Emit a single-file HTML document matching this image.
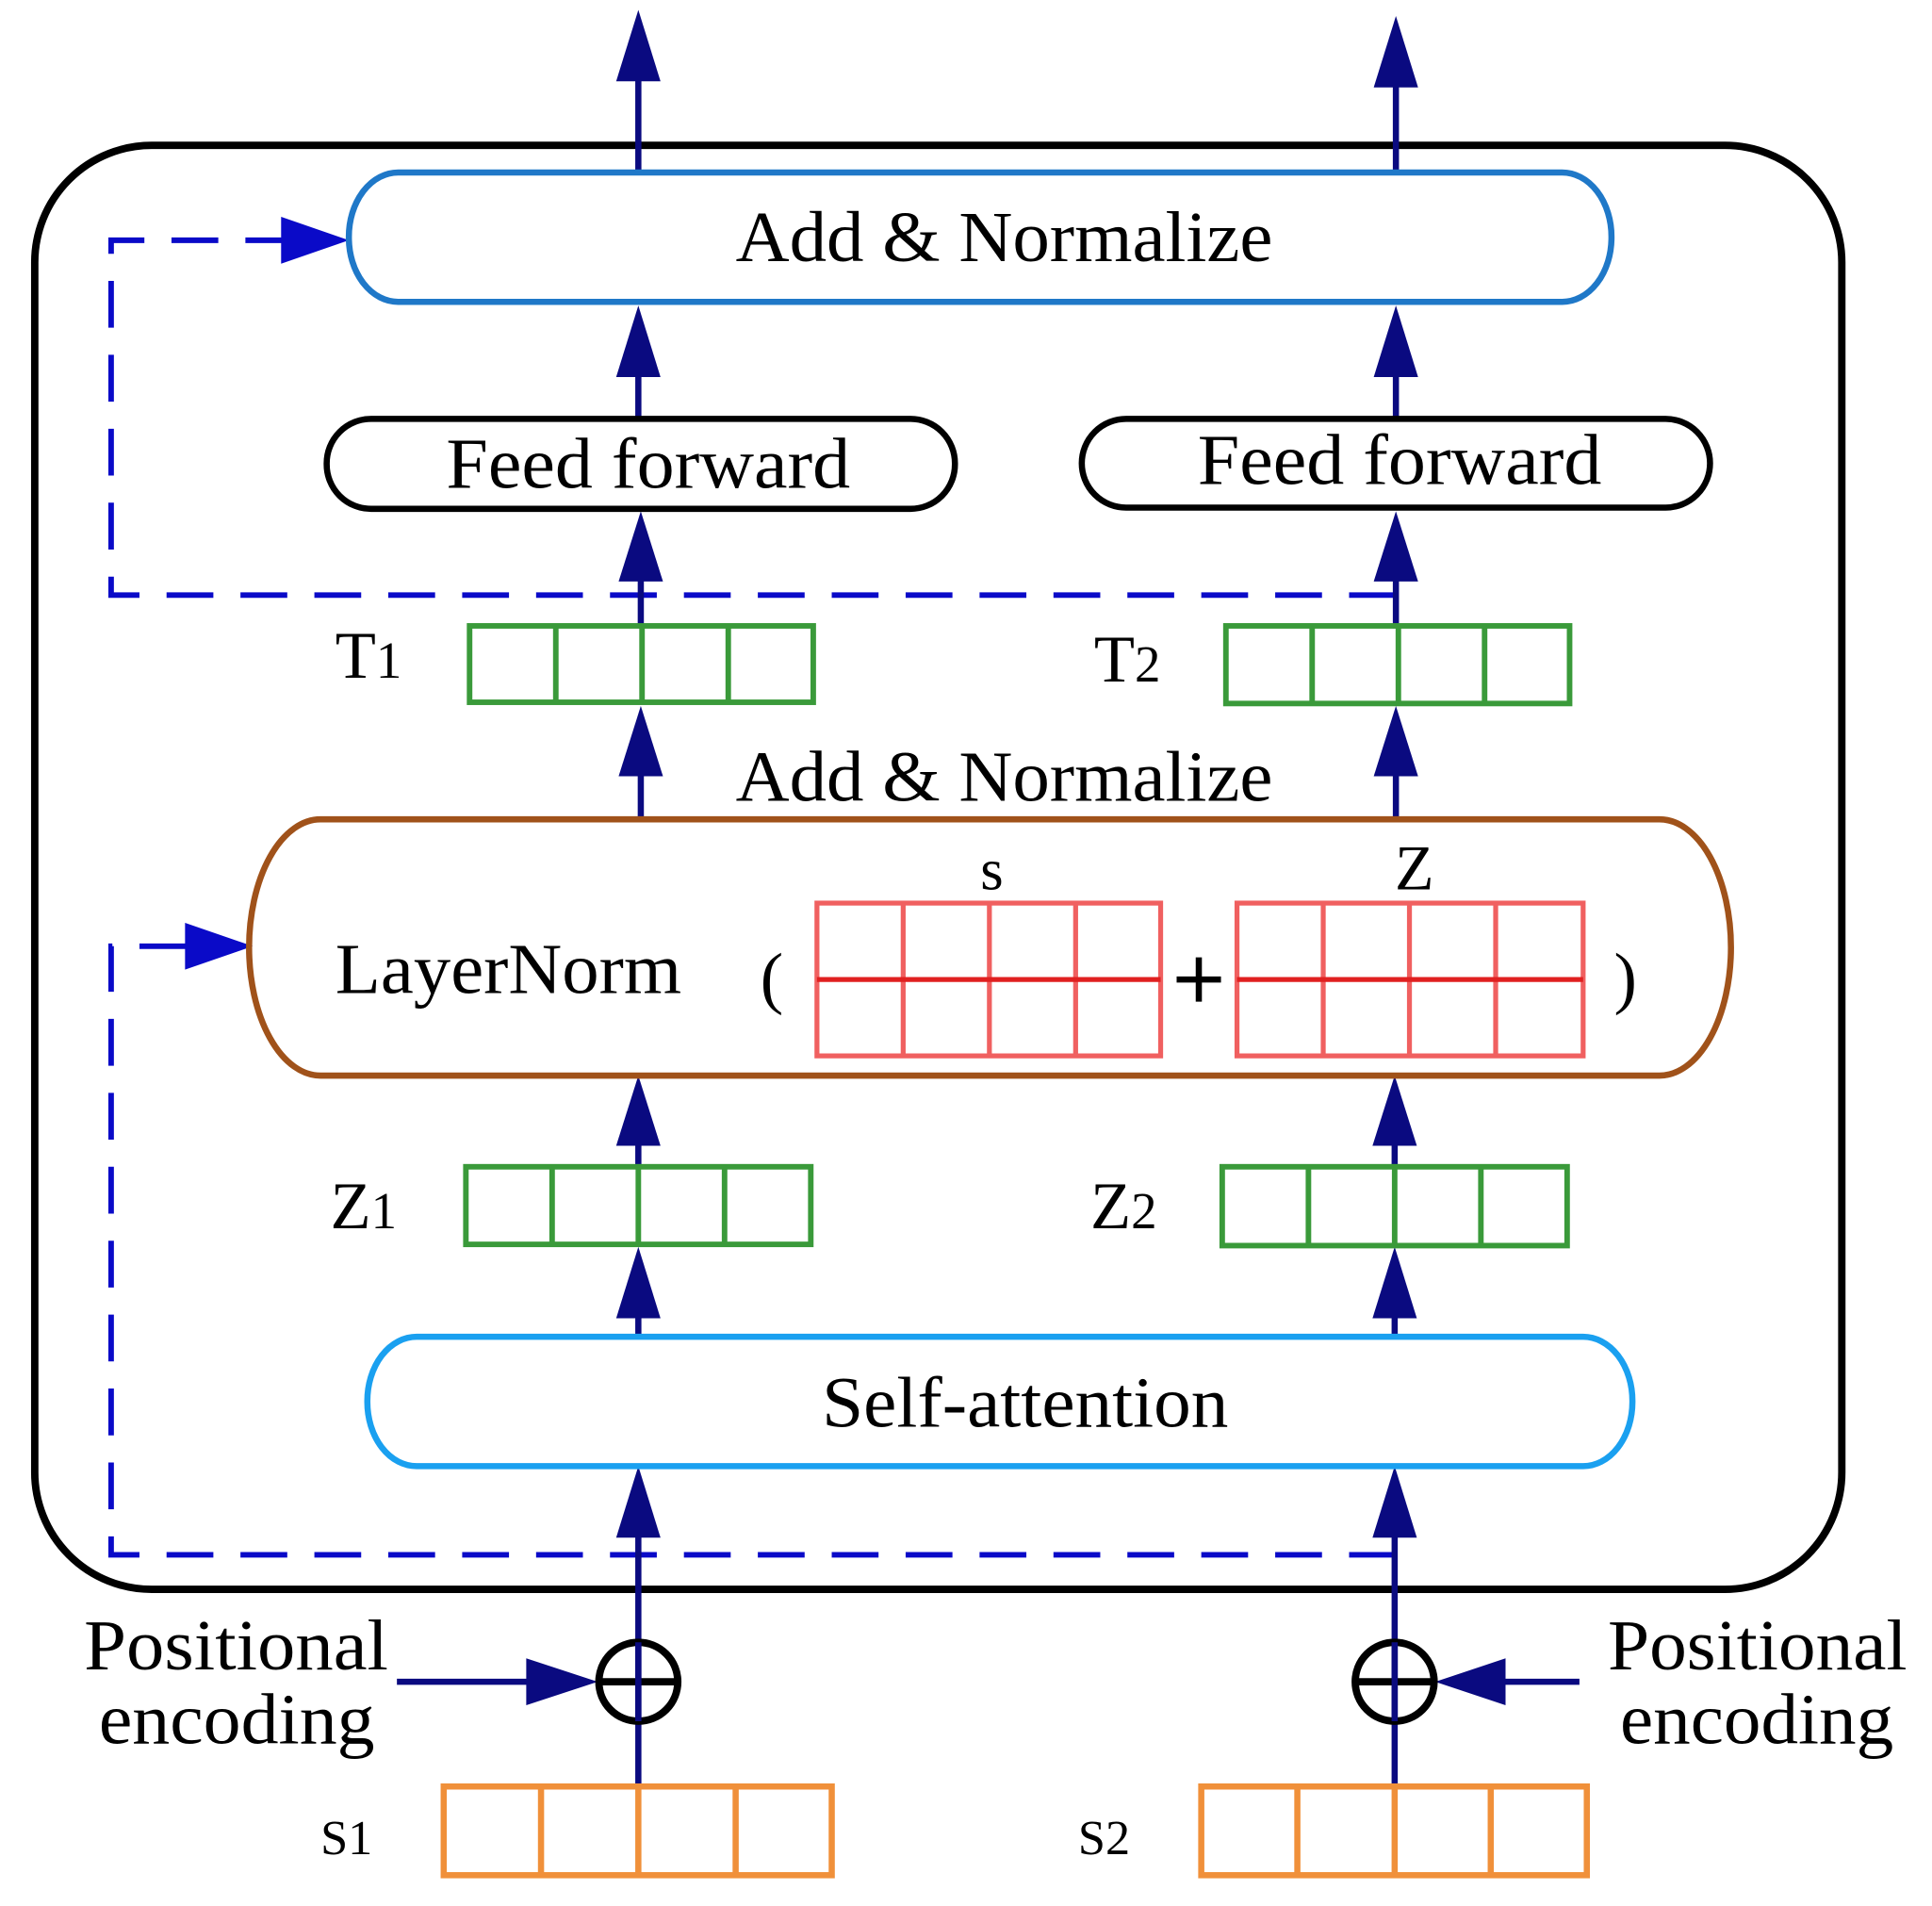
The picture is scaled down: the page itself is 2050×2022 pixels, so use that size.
<!DOCTYPE html>
<html><head><meta charset="utf-8"><style>html,body{margin:0;padding:0;background:#fff}svg{display:block}</style></head>
<body>
<svg width="2050" height="2022" viewBox="0 0 1568 1547" xmlns="http://www.w3.org/2000/svg" font-family="Liberation Serif, serif">
<rect width="1568" height="1547" fill="#fff"/>
<rect x="28" y="118" width="1467" height="1172" rx="95" ry="95" fill="none" stroke="#000" stroke-width="6"/>
<g fill="none" stroke="#0a0ac8" stroke-width="4.5" stroke-dasharray="38,22">
<path d="M1133 483 H90 V195 H230"/>
<path d="M1133 1262 H90 V768 H152"/>
</g>
<g fill="#0a0ac8">
<polygon points="283,195 228,176 228,214"/>
<polygon points="205,768 150,749 150,787"/>
</g>
<g stroke="#0a0a80" stroke-width="5">
<line x1="518" y1="140" x2="518" y2="60"/><line x1="1133" y1="140" x2="1133" y2="65"/>
<line x1="518" y1="340" x2="518" y2="300"/><line x1="1133" y1="340" x2="1133" y2="300"/>
<line x1="520" y1="510" x2="520" y2="465"/><line x1="1133" y1="510" x2="1133" y2="465"/>
<line x1="520" y1="665" x2="520" y2="625"/><line x1="1133" y1="665" x2="1133" y2="625"/>
<line x1="518" y1="945" x2="518" y2="925"/><line x1="1132" y1="945" x2="1132" y2="925"/>
<line x1="518" y1="1085" x2="518" y2="1065"/><line x1="1132" y1="1085" x2="1132" y2="1065"/>
<line x1="518" y1="1450" x2="518" y2="1245"/><line x1="1132" y1="1450" x2="1132" y2="1245"/>
<line x1="322" y1="1365" x2="430" y2="1365"/><line x1="1282" y1="1365" x2="1220" y2="1365"/>
</g>
<g fill="#0a0a80">
<polygon points="518,8 500,66 536,66"/><polygon points="1133,13 1115,71 1151,71"/>
<polygon points="518,248 500,306 536,306"/><polygon points="1133,248 1115,306 1151,306"/>
<polygon points="520,415 502,472 538,472"/><polygon points="1133,415 1115,472 1151,472"/>
<polygon points="520,573 502,630 538,630"/><polygon points="1133,573 1115,630 1151,630"/>
<polygon points="518,873 500,930 536,930"/><polygon points="1132,873 1114,930 1150,930"/>
<polygon points="518,1012 500,1070 536,1070"/><polygon points="1132,1012 1114,1070 1150,1070"/>
<polygon points="518,1190 500,1248 536,1248"/><polygon points="1132,1190 1114,1248 1150,1248"/>
<polygon points="485,1365 427,1346 427,1384"/><polygon points="1165,1365 1222,1346 1222,1384"/>
</g>
<rect x="283" y="140" width="1025" height="105" rx="40" ry="52" fill="#fff" stroke="#1f78c8" stroke-width="5"/>
<text x="597" y="212" font-size="58" textLength="436" lengthAdjust="spacingAndGlyphs">Add &amp; Normalize</text>
<rect x="265" y="340" width="510" height="73" rx="36" fill="#fff" stroke="#000" stroke-width="5"/>
<text x="362" y="396" font-size="58" textLength="328" lengthAdjust="spacingAndGlyphs">Feed forward</text>
<rect x="878" y="340" width="510" height="72" rx="36" fill="#fff" stroke="#000" stroke-width="5"/>
<text x="972" y="393" font-size="58" textLength="328" lengthAdjust="spacingAndGlyphs">Feed forward</text>
<text x="597" y="650" font-size="58" textLength="436" lengthAdjust="spacingAndGlyphs">Add &amp; Normalize</text>
<rect x="202" y="665" width="1203" height="208" rx="58" ry="104" fill="none" stroke="#a0521a" stroke-width="5"/>
<text x="272" y="806" font-size="58" textLength="281" lengthAdjust="spacingAndGlyphs">LayerNorm</text>
<text x="617" y="812" font-size="56">(</text>
<text x="1310" y="812" font-size="56">)</text>
<g stroke="#000" stroke-width="5"><line x1="955" y1="795" x2="991" y2="795"/><line x1="973" y1="777" x2="973" y2="813"/></g>
<text x="805" y="722" font-size="48" text-anchor="middle">s</text>
<text x="1148" y="722" font-size="52" text-anchor="middle">Z</text>
<rect x="298" y="1085" width="1027" height="105" rx="40" ry="52" fill="#fff" stroke="#1aa0f0" stroke-width="5"/>
<text x="667" y="1158" font-size="58" textLength="330" lengthAdjust="spacingAndGlyphs">Self-attention</text>
<g fill="none" stroke="#3a9a3a" stroke-width="4.5">
<rect x="381" y="508" width="279" height="62"/><line x1="451" y1="508" x2="451" y2="570"/><line x1="521" y1="508" x2="521" y2="570"/><line x1="591" y1="508" x2="591" y2="570"/>
<rect x="995" y="508" width="279" height="63"/><line x1="1065" y1="508" x2="1065" y2="571"/><line x1="1135" y1="508" x2="1135" y2="571"/><line x1="1205" y1="508" x2="1205" y2="571"/>
<rect x="378" y="947" width="280" height="63"/><line x1="448" y1="947" x2="448" y2="1010"/><line x1="518" y1="947" x2="518" y2="1010"/><line x1="588" y1="947" x2="588" y2="1010"/>
<rect x="992" y="947" width="280" height="64"/><line x1="1062" y1="947" x2="1062" y2="1011"/><line x1="1132" y1="947" x2="1132" y2="1011"/><line x1="1202" y1="947" x2="1202" y2="1011"/>
</g>
<text x="272" y="550" font-size="54">T<tspan font-size="42">1</tspan></text>
<text x="888" y="553" font-size="54">T<tspan font-size="42">2</tspan></text>
<text x="268" y="997" font-size="54">Z<tspan font-size="42">1</tspan></text>
<text x="885" y="997" font-size="54">Z<tspan font-size="42">2</tspan></text>
<g fill="none" stroke="#f06060" stroke-width="4">
<rect x="663" y="733" width="279" height="124"/><line x1="733" y1="733" x2="733" y2="857"/><line x1="803" y1="733" x2="803" y2="857"/><line x1="873" y1="733" x2="873" y2="857"/>
<rect x="1004" y="733" width="281" height="124"/><line x1="1074" y1="733" x2="1074" y2="857"/><line x1="1144" y1="733" x2="1144" y2="857"/><line x1="1214" y1="733" x2="1214" y2="857"/>
</g>
<g stroke="#e02020" stroke-width="4"><line x1="663" y1="795" x2="942" y2="795"/><line x1="1004" y1="795" x2="1285" y2="795"/></g>
<g fill="none" stroke="#000" stroke-width="6">
<circle cx="518" cy="1365" r="32"/><line x1="486" y1="1365" x2="550" y2="1365"/>
<circle cx="1132" cy="1365" r="32"/><line x1="1100" y1="1365" x2="1164" y2="1365"/>
</g>
<g stroke="#0a0a80" stroke-width="5"><line x1="518" y1="1333" x2="518" y2="1397"/><line x1="1132" y1="1333" x2="1132" y2="1397"/></g>
<text x="68" y="1355" font-size="58" textLength="247" lengthAdjust="spacingAndGlyphs">Positional</text>
<text x="80" y="1415" font-size="58" textLength="224" lengthAdjust="spacingAndGlyphs">encoding</text>
<text x="1305" y="1355" font-size="58" textLength="243" lengthAdjust="spacingAndGlyphs">Positional</text>
<text x="1315" y="1415" font-size="58" textLength="222" lengthAdjust="spacingAndGlyphs">encoding</text>
<g fill="none" stroke="#f0903a" stroke-width="5">
<rect x="360" y="1450" width="315" height="72"/><line x1="439" y1="1450" x2="439" y2="1522"/><line x1="518" y1="1450" x2="518" y2="1522"/><line x1="597" y1="1450" x2="597" y2="1522"/>
<rect x="975" y="1450" width="313" height="72"/><line x1="1053" y1="1450" x2="1053" y2="1522"/><line x1="1132" y1="1450" x2="1132" y2="1522"/><line x1="1210" y1="1450" x2="1210" y2="1522"/>
</g>
<text x="260" y="1505" font-size="40">S1</text>
<text x="875" y="1505" font-size="40">S2</text>
</svg>
</body></html>
